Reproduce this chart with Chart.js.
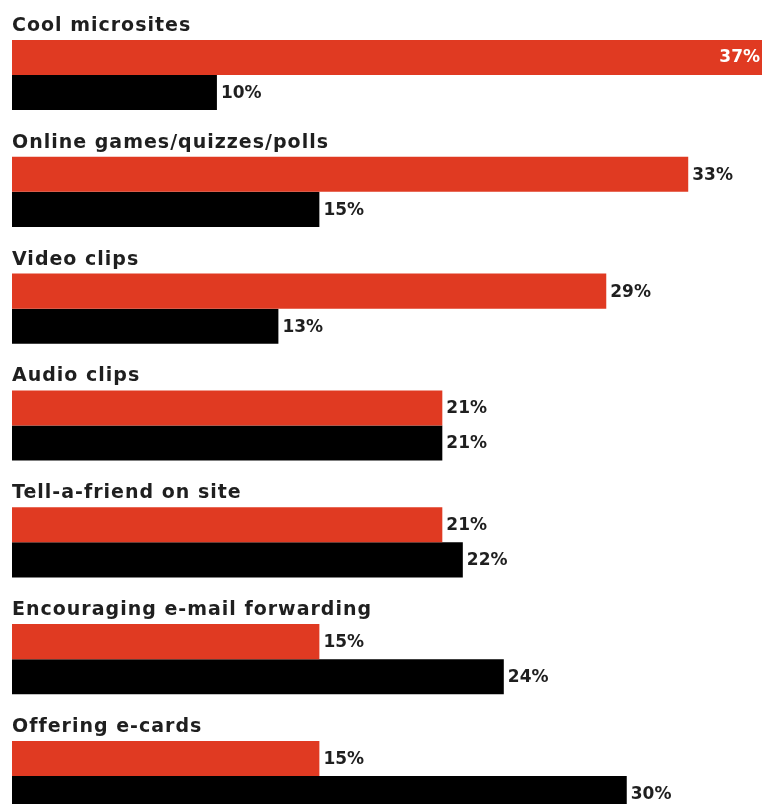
<!DOCTYPE html>
<html>
<head>
<meta charset="utf-8">
<script src="https://cdn.jsdelivr.net/npm/chart.js@4"></script>
<style>
  html, body { margin: 0; padding: 0; background: #fff; }
  #wrap { width: 762px; height: 804px; position: relative; }
</style>
</head>
<body>
<div id="wrap"><canvas id="c"></canvas></div>
<script>
const categories = [
  "Cool microsites",
  "Online games/quizzes/polls",
  "Video clips",
  "Audio clips",
  "Tell-a-friend on site",
  "Encouraging e-mail forwarding",
  "Offering e-cards"
];
const seriesRed = [37, 33, 29, 21, 21, 15, 15];
const seriesBlack = [10, 15, 13, 21, 22, 24, 30];

const RED = "#e03a22";
const INK = "#1f1f1f";

const labelPlugin = {
  id: "labels",
  afterDatasetsDraw(chart) {
    const ctx = chart.ctx;
    const W = chart.width;
    const m0 = chart.getDatasetMeta(0);
    const m1 = chart.getDatasetMeta(1);
    ctx.save();
    ctx.font = "bold 19px 'DejaVu Sans'";
    ctx.fillStyle = INK;
    ctx.textAlign = "left";
    ctx.textBaseline = "alphabetic";
    try { ctx.letterSpacing = "1px"; } catch (e) {}
    m0.data.forEach((bar, i) => {
      const top = bar.y - bar.height / 2;
      ctx.fillText(categories[i], chart.chartArea.left, top - 9);
    });
    try { ctx.letterSpacing = "0px"; } catch (e) {}
    ctx.font = "bold 17px 'DejaVu Sans'";
    ctx.textBaseline = "middle";
    [[m0, seriesRed], [m1, seriesBlack]].forEach(([meta, vals]) => {
      meta.data.forEach((bar, i) => {
        const txt = vals[i] + "%";
        const w = ctx.measureText(txt).width;
        if (bar.x + 5 + w > W) {
          ctx.fillStyle = "#ffffff";
          ctx.textAlign = "right";
          ctx.fillText(txt, Math.min(bar.x, W) - 2, bar.y);
        } else {
          ctx.fillStyle = INK;
          ctx.textAlign = "left";
          ctx.fillText(txt, bar.x + 4, bar.y + 1);
        }
      });
    });
    ctx.restore();
  }
};

new Chart(document.getElementById("c"), {
  type: "bar",
  data: {
    labels: categories,
    datasets: [
      { data: seriesRed, backgroundColor: RED, clip: false },
      { data: seriesBlack, backgroundColor: "#000000", clip: false }
    ]
  },
  options: {
    indexAxis: "y",
    responsive: true,
    maintainAspectRatio: false,
    animation: false,
    layout: { padding: { left: 12, right: 0, top: 75, bottom: 28 } },
    datasets: { bar: { barPercentage: 1.0, categoryPercentage: 0.6 } },
    plugins: { legend: { display: false }, tooltip: { enabled: false } },
    scales: {
      x: { display: false, min: 0, max: 36.6 },
      y: { display: false, offset: false }
    }
  },
  plugins: [labelPlugin]
});
</script>
</body>
</html>
